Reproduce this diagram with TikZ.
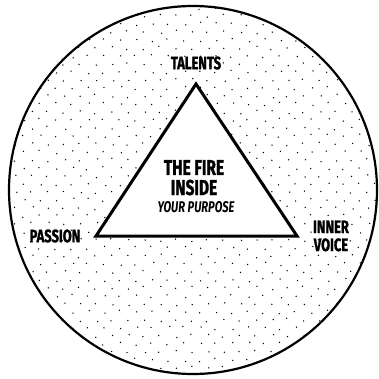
\documentclass[tikz,border=0pt]{standalone}
\usepackage{fontspec}
\newfontfamily\condfont{Fira Sans}[FakeStretch=0.72, BoldFeatures={FakeBold=1.3}]
\usepackage{tikz}
\usetikzlibrary{positioning}

\begin{document}
\begin{tikzpicture}[x=1pt, y=-1pt,
  every node/.style={font=\condfont\bfseries, inner sep=0pt, align=center},
  label/.style={font=\condfont\bfseries\fontsize{18}{18}\selectfont},
  title/.style={font=\condfont\bfseries\fontsize{21.5}{21}\selectfont}
]
\useasboundingbox (0,0) rectangle (378,379);
% outer circle with stipple
\coordinate (ctr) at (193,190);
\begin{scope}
  \clip (ctr) circle (184);
  \pgfmathsetseed{7}
  \foreach \i in {0,...,47} {
    \foreach \j in {0,...,24} {
      \pgfmathsetmacro\dx{16*\j + 8*mod(\i,2) + 1.8*rand}
      \pgfmathsetmacro\dy{8*\i + 1.8*rand}
      \fill (\dx,\dy) circle (0.75);
    }
  }
\end{scope}
\draw[line width=2.2pt] (ctr) circle (184);
% triangle
\coordinate (top) at (196,84);
\coordinate (left) at (96,236);
\coordinate (right) at (297,236);
\filldraw[fill=white, line width=3pt, line join=miter] (top) -- (left) -- (right) -- cycle;
% labels
\node[label] (talents) at (196,63) {TALENTS};
\node[label] (passion) at (55,236) {PASSION};
\node[label] (voice) at (331,236) {INNER\\VOICE};
\node[title, anchor=base] (fire) at (194,175) {THE FIRE};
\node[title, anchor=base] (inside) at (194,195) {INSIDE};
\node[font=\condfont\bfseries\itshape\fontsize{15.5}{15}\selectfont, anchor=base] (purpose) at (196,212) {YOUR PURPOSE};
\end{tikzpicture}
\end{document}
